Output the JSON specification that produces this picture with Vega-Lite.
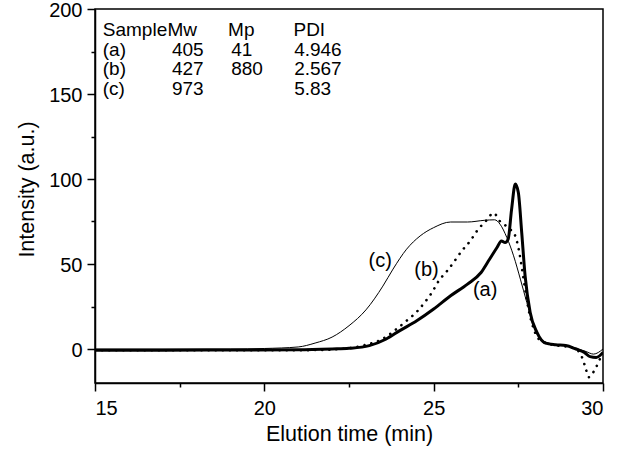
{
  "$schema": "https://vega.github.io/schema/vega-lite/v6.json",
  "width": 508,
  "height": 374,
  "autosize": {"type": "none"},
  "padding": {"left": 95, "top": 9, "right": 22, "bottom": 69},
  "background": "white",
  "config": {
    "font": "Liberation Sans",
    "view": {"stroke": "black", "strokeWidth": 1.5},
    "axis": {
      "domainColor": "black", "domainWidth": 1.5,
      "tickColor": "black", "tickWidth": 1.5,
      "labelColor": "black", "titleColor": "black",
      "labelFont": "Liberation Sans", "titleFont": "Liberation Sans",
      "labelFontSize": 20, "titleFontSize": 21.5, "titleFontWeight": "normal",
      "grid": false
    }
  },
  "datasets": {
    "curves": [
      {"s": "a", "t": 15, "v": -0.7}, {"s": "a", "t": 17, "v": -0.7}, {"s": "a", "t": 19, "v": -0.6},
      {"s": "a", "t": 21, "v": -0.5}, {"s": "a", "t": 22, "v": 0}, {"s": "a", "t": 22.5, "v": 0.4},
      {"s": "a", "t": 23.1, "v": 2}, {"s": "a", "t": 23.6, "v": 5.9}, {"s": "a", "t": 24.0, "v": 10.8},
      {"s": "a", "t": 24.5, "v": 16.6}, {"s": "a", "t": 25.0, "v": 23.5}, {"s": "a", "t": 25.5, "v": 31.3},
      {"s": "a", "t": 26.0, "v": 38.2}, {"s": "a", "t": 26.4, "v": 45}, {"s": "a", "t": 26.65, "v": 52.8},
      {"s": "a", "t": 26.87, "v": 59.7}, {"s": "a", "t": 27.0, "v": 63.6}, {"s": "a", "t": 27.11, "v": 62.6},
      {"s": "a", "t": 27.2, "v": 64.6}, {"s": "a", "t": 27.3, "v": 82}, {"s": "a", "t": 27.41, "v": 97},
      {"s": "a", "t": 27.5, "v": 92}, {"s": "a", "t": 27.6, "v": 68.5}, {"s": "a", "t": 27.7, "v": 43},
      {"s": "a", "t": 27.85, "v": 21.5}, {"s": "a", "t": 28.05, "v": 9.8}, {"s": "a", "t": 28.3, "v": 3.5},
      {"s": "a", "t": 28.6, "v": 2.5}, {"s": "a", "t": 28.9, "v": 2}, {"s": "a", "t": 29.2, "v": 0},
      {"s": "a", "t": 29.45, "v": -2}, {"s": "a", "t": 29.62, "v": -4.5}, {"s": "a", "t": 29.8, "v": -5},
      {"s": "a", "t": 30, "v": -2},

      {"s": "b", "t": 15, "v": -0.7}, {"s": "b", "t": 21, "v": -0.7}, {"s": "b", "t": 22, "v": -0.3},
      {"s": "b", "t": 22.5, "v": 0.5}, {"s": "b", "t": 23.0, "v": 2.5}, {"s": "b", "t": 23.5, "v": 6},
      {"s": "b", "t": 23.9, "v": 11.7}, {"s": "b", "t": 24.2, "v": 16.6}, {"s": "b", "t": 24.5, "v": 21.9},
      {"s": "b", "t": 24.75, "v": 27.8}, {"s": "b", "t": 24.95, "v": 33.3}, {"s": "b", "t": 25.15, "v": 40.1},
      {"s": "b", "t": 25.4, "v": 46}, {"s": "b", "t": 25.6, "v": 51.3}, {"s": "b", "t": 25.83, "v": 57.7},
      {"s": "b", "t": 26.08, "v": 63.6}, {"s": "b", "t": 26.28, "v": 69.5}, {"s": "b", "t": 26.55, "v": 75.5},
      {"s": "b", "t": 26.77, "v": 80}, {"s": "b", "t": 26.95, "v": 75.3}, {"s": "b", "t": 27.26, "v": 70.4},
      {"s": "b", "t": 27.41, "v": 66.5}, {"s": "b", "t": 27.51, "v": 58.7}, {"s": "b", "t": 27.61, "v": 47},
      {"s": "b", "t": 27.7, "v": 35.2}, {"s": "b", "t": 27.8, "v": 23.5}, {"s": "b", "t": 27.95, "v": 12},
      {"s": "b", "t": 28.15, "v": 5}, {"s": "b", "t": 28.5, "v": 2.5}, {"s": "b", "t": 28.9, "v": 1.5},
      {"s": "b", "t": 29.2, "v": 0}, {"s": "b", "t": 29.38, "v": -4.9}, {"s": "b", "t": 29.48, "v": -10.8},
      {"s": "b", "t": 29.58, "v": -16.6}, {"s": "b", "t": 29.77, "v": -11.7}, {"s": "b", "t": 29.97, "v": -2.9},

      {"s": "c", "t": 15, "v": 0}, {"s": "c", "t": 19, "v": 0}, {"s": "c", "t": 20, "v": 0.3},
      {"s": "c", "t": 21, "v": 1.2}, {"s": "c", "t": 21.5, "v": 3.5}, {"s": "c", "t": 22.0, "v": 7},
      {"s": "c", "t": 22.5, "v": 13.7}, {"s": "c", "t": 23.0, "v": 23}, {"s": "c", "t": 23.5, "v": 37},
      {"s": "c", "t": 23.8, "v": 47}, {"s": "c", "t": 24.2, "v": 58.7}, {"s": "c", "t": 24.6, "v": 66.5},
      {"s": "c", "t": 25.0, "v": 71.4}, {"s": "c", "t": 25.5, "v": 74.7}, {"s": "c", "t": 26.0, "v": 74.7},
      {"s": "c", "t": 26.5, "v": 75.7}, {"s": "c", "t": 26.8, "v": 76}, {"s": "c", "t": 26.96, "v": 73.4},
      {"s": "c", "t": 27.16, "v": 65.6}, {"s": "c", "t": 27.36, "v": 54.8}, {"s": "c", "t": 27.56, "v": 41.1},
      {"s": "c", "t": 27.75, "v": 27.4}, {"s": "c", "t": 27.95, "v": 13.7}, {"s": "c", "t": 28.15, "v": 5.9},
      {"s": "c", "t": 28.5, "v": 3}, {"s": "c", "t": 28.9, "v": 2}, {"s": "c", "t": 29.2, "v": 0.5},
      {"s": "c", "t": 29.5, "v": -1.5}, {"s": "c", "t": 29.72, "v": -3}, {"s": "c", "t": 30, "v": 0}
    ],
    "table": [
      {"tx": 15.23, "ty": 184, "label": "Sample"},
      {"tx": 17.14, "ty": 184, "label": "Mw"},
      {"tx": 18.93, "ty": 184, "label": "Mp"},
      {"tx": 20.86, "ty": 184, "label": "PDI"},
      {"tx": 15.23, "ty": 172.5, "label": "(a)"},
      {"tx": 17.27, "ty": 172.5, "label": "405"},
      {"tx": 19.02, "ty": 172.5, "label": "41"},
      {"tx": 20.88, "ty": 172.5, "label": "4.946"},
      {"tx": 15.23, "ty": 161, "label": "(b)"},
      {"tx": 17.27, "ty": 161, "label": "427"},
      {"tx": 19.02, "ty": 161, "label": "880"},
      {"tx": 20.88, "ty": 161, "label": "2.567"},
      {"tx": 15.23, "ty": 149.5, "label": "(c)"},
      {"tx": 17.27, "ty": 149.5, "label": "973"},
      {"tx": 20.88, "ty": 149.5, "label": "5.83"}
    ],
    "notes": [
      {"tx": 23.42, "ty": 51.6, "label": "(c)"},
      {"tx": 24.79, "ty": 46.4, "label": "(b)"},
      {"tx": 26.52, "ty": 34.6, "label": "(a)"}
    ]
  },
  "encoding": {
    "x": {
      "field": "t", "type": "quantitative",
      "scale": {"domain": [15, 30], "nice": false, "zero": false},
      "axis": {
        "title": "Elution time (min)",
        "values": [15, 17.5, 20, 22.5, 25, 27.5, 30],
        "labelExpr": "datum.value % 5 === 0 ? datum.label : ''",
        "tickSize": {"condition": {"test": "datum.value % 5 !== 0", "value": 4}, "value": 8},
        "labelPadding": 7,
        "titlePadding": 5
      }
    },
    "y": {
      "field": "v", "type": "quantitative",
      "scale": {"domain": [-20, 200], "nice": false, "zero": false},
      "axis": {
        "title": "Intensity (a.u.)",
        "values": [0, 25, 50, 75, 100, 125, 150, 175, 200],
        "labelExpr": "datum.value % 50 === 0 ? datum.label : ''",
        "tickSize": {"condition": {"test": "datum.value % 50 !== 0", "value": 4}, "value": 8},
        "labelOffset": 1.5,
        "labelPadding": 5,
        "titlePadding": 10,
        "titleY": 180
      }
    }
  },
  "layer": [
    {
      "data": {"name": "curves"},
      "transform": [{"filter": "datum.s === 'c'"}],
      "mark": {"type": "line", "interpolate": "monotone", "color": "black", "strokeWidth": 1, "clip": true}
    },
    {
      "data": {"name": "curves"},
      "transform": [{"filter": "datum.s === 'b'"}],
      "mark": {"type": "line", "interpolate": "monotone", "color": "black", "strokeWidth": 2.6, "strokeCap": "round", "strokeDash": [0.1, 7], "clip": true}
    },
    {
      "data": {"name": "curves"},
      "transform": [{"filter": "datum.s === 'a'"}],
      "mark": {"type": "line", "interpolate": "monotone", "color": "black", "strokeWidth": 3, "clip": true}
    },
    {
      "data": {"name": "table"},
      "mark": {"type": "text", "align": "left", "baseline": "alphabetic", "fontSize": 19, "color": "black", "font": "Liberation Sans"},
      "encoding": {
        "x": {"field": "tx", "type": "quantitative"},
        "y": {"field": "ty", "type": "quantitative"},
        "text": {"field": "label"}
      }
    },
    {
      "data": {"name": "notes"},
      "mark": {"type": "text", "align": "center", "baseline": "middle", "fontSize": 20, "color": "black", "font": "Liberation Sans"},
      "encoding": {
        "x": {"field": "tx", "type": "quantitative"},
        "y": {"field": "ty", "type": "quantitative"},
        "text": {"field": "label"}
      }
    }
  ]
}
